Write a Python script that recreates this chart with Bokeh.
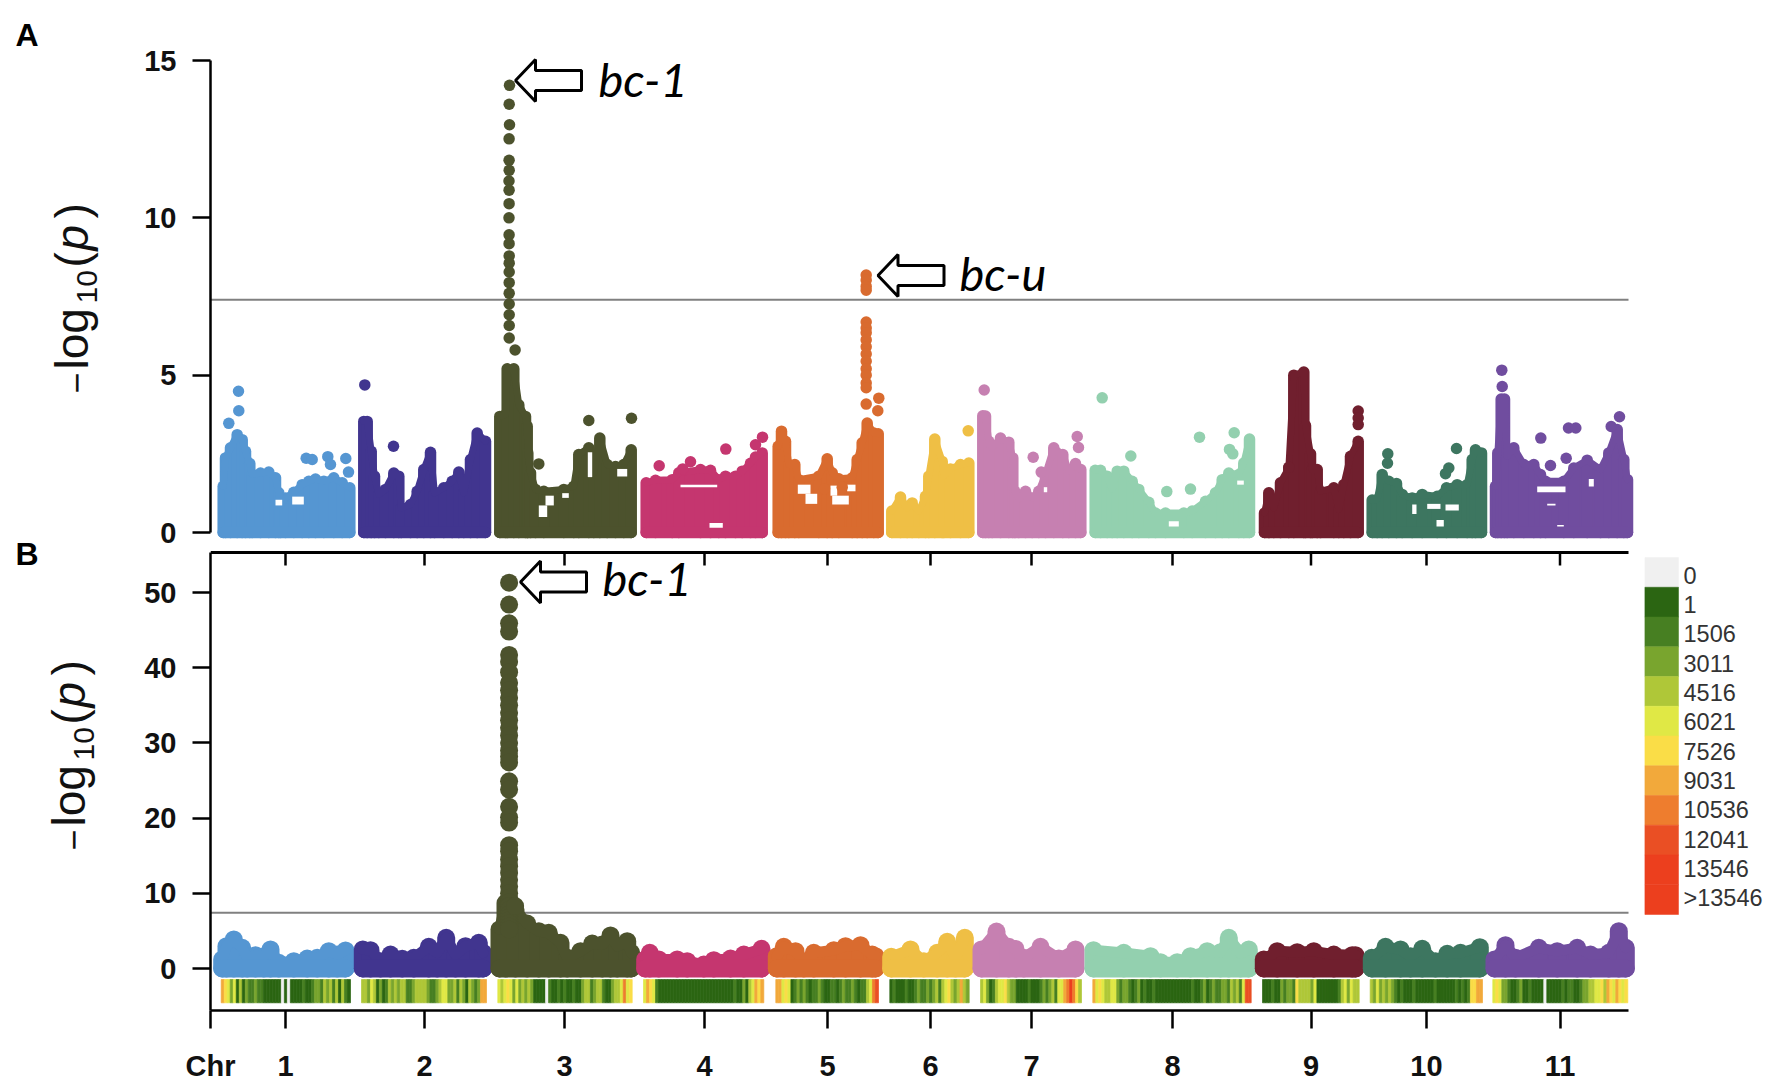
import math
from bokeh.plotting import figure
from bokeh.layouts import column, row
from bokeh.models import Range1d, LinearAxis, FixedTicker
from bokeh.embed import file_html
from bokeh.resources import INLINE
from bokeh.core.properties import value

CHR_COLORS = ["#5596D2", "#41358F", "#4C522D", "#C5366F", "#D96B2F", "#EFBF45",
              "#C680B1", "#93D0AF", "#701F2E", "#3D7660", "#704D9F"]
CHR_LABELS = ["Chr", "1", "2", "3", "4", "5", "6", "7", "8", "9", "10", "11"]
TICK_POS = [0, 75, 214, 354, 494, 617, 720, 821, 962, 1100.5, 1216, 1349.5]
GENOME_END = 1418
THRESHOLD = 7.4

# Panel A: upper outline of each chromosome's point cloud (position, -log10 p)
A_POS_1 = [12.7,15,20,26.7,31.7,35,39.3,41.7,50,58.3,65,68.3,70,75,83.3,91.7,98.3,105,113.3,123.3,131.7,139.3]
A_VAL_1 = [1.47,2.37,2.69,3.11,2.95,2.58,2.19,1.84,1.89,1.92,1.74,1.26,.84,1.10,1.28,1.52,1.63,1.70,1.63,1.74,1.58,1.42]
A_POS_2 = [153.3,156.7,160.7,164,168.3,175,183.3,188.3,190.7,200,206.7,213.3,220,224,233.3,241.7,248.3,253.3,260,266.7,275]
A_VAL_2 = [3.53,3.53,2.58,1.79,1.21,1.37,1.89,1.79,.78,.89,1.31,2.0,2.55,1.26,1.42,1.63,1.92,1.26,2.32,3.16,2.90]
A_POS_3 = [289.3,295,296.7,303.3,308.3,315,316.7,317.3,320,325,333.3,353.3,363.3,368.3,378.3,383.3,389.3,396.7,405,413.3,420.7]
A_VAL_3 = [3.69,3.75,5.2,5.2,4.06,3.69,3.38,2.53,1.9,1.37,1.31,1.37,1.47,2.48,2.69,1.89,3.0,2.16,2.1,2.16,2.63]
A_POS_4 = [435.7,445,461.7,468.3,490,500,508.3,515,525,531.7,540,545,551.7]
A_VAL_4 = [1.58,1.66,1.68,1.9,2.0,1.98,1.68,1.79,1.79,1.95,2.2,2.4,2.53]
A_POS_5 = [567.7,571,575,578.3,584.3,588.3,608.3,616.7,621.7,628.3,641.7,646.7,651.7,656.7,663.3,667.7]
A_VAL_5 = [2.74,3.22,2.9,2.16,2.16,1.68,1.79,2.34,1.9,1.71,1.74,2.32,2.85,3.48,3.16,3.14]
A_POS_6 = [681.3,690,696.7,701.7,708.3,715,718.3,724.3,731.7,733.3,740,750,758.3]
A_VAL_6 = [.68,1.13,.78,.94,.68,1.15,1.79,2.97,2.26,1.8,2.02,2.16,2.21]
A_POS_7 = [772.3,775,778.3,781.7,790,798.3,802.3,804.3,808.3,815,821.7,828.3,835,843.3,852.3,858.3,865,870.3]
A_VAL_7 = [3.71,3.7,2.9,2.7,3.0,2.87,2.37,1.31,1.07,1.31,1.10,1.31,1.84,2.69,2.48,1.95,2.19,2.0]
A_POS_8 = [884.7,890,896.7,901.7,906.7,913.3,921.7,928.3,938.3,945,955,973.3,981.7,995,1005,1011.7,1018.3,1028.3,1033.3,1039]
A_VAL_8 = [1.98,1.98,1.79,1.37,1.95,1.95,1.63,1.37,.96,.62,.62,.62,.68,.99,1.26,1.68,1.89,1.84,2.21,2.97]
A_POS_9 = [1054,1058.3,1063.3,1070,1078.3,1083.3,1093.3,1095,1100,1101.7,1106.7,1110,1123.3,1128.3,1133.3,1140,1147.7]
A_VAL_9 = [.62,1.26,.78,1.58,2.05,5.0,5.1,3.4,2.5,2.0,2.0,1.31,1.42,.73,1.52,2.42,2.9]
A_POS_10 = [1161.7,1166.7,1171.7,1178.3,1186,1191.7,1201.7,1211.7,1226.7,1236,1246.7,1256.7,1261.7,1265,1271]
A_VAL_10 = [1.03,1.05,1.84,1.63,1.56,1.21,1.10,1.21,1.15,1.42,1.52,1.52,2.32,2.63,2.53]
A_POS_11 = [1285,1287.3,1290.7,1294,1296.7,1303.3,1313.3,1323.3,1330,1335,1353.3,1363.3,1376.7,1390,1398.3,1406.7,1413.3,1417]
A_VAL_11 = [1.47,2.53,4.24,4.24,2.42,2.69,2.16,2.16,1.84,1.63,1.63,2.05,2.3,2.0,2.53,3.27,2.32,1.68]

# Panel A: points standing clear of the cloud
ISO_A_POS_1 = [28,28.3,18.3,95.7,101.7,117.3,120,135.3,138]
ISO_A_VAL_1 = [4.49,3.87,3.47,2.36,2.32,2.41,2.16,2.35,1.92]
ISO_A_POS_2 = [154.3,183]
ISO_A_VAL_2 = [4.69,2.74]
ISO_A_POS_3 = [378.3,421,328.3] + [299,298.7,299,298.6,298.6,298.7,298.5,298.6,298.6,298.5,298.6,298.6,298.7,298.7,298.7,298.7,298.7,298.7,298.7,298.7,298.7,304.6]
ISO_A_VAL_3 = [3.56,3.63,2.18] + [14.21,13.61,12.96,12.51,11.83,11.51,11.17,10.88,10.45,10.0,9.46,9.18,8.79,8.56,8.28,7.94,7.6,7.26,6.92,6.58,6.18,5.8]
ISO_A_POS_4 = [448.7,480,515.3,545,552,472.3]
ISO_A_VAL_4 = [2.12,2.25,2.65,2.79,3.03,2.02]
ISO_A_POS_5 = [655.7]*15 + [668.3,667.3,655.7,614,631.7]
ISO_A_VAL_5 = [8.18,8.02,7.82,7.7,6.69,6.5,6.35,6.12,5.9,5.67,5.44,5.2,5.0,4.75,4.6] + [4.27,3.87,4.08,1.39,1.44]
ISO_A_POS_6 = [757.7]
ISO_A_VAL_6 = [3.23]
ISO_A_POS_7 = [773.7,822.7,830.7,866.7,868]
ISO_A_VAL_7 = [4.53,2.39,1.92,3.05,2.7]
ISO_A_POS_8 = [891.7,920.3,956.3,980,989,1023.7,1019,1022.3]
ISO_A_VAL_8 = [4.28,2.43,1.30,1.38,3.03,3.17,2.64,2.50]
ISO_A_POS_9 = [1147.7,1147.7,1147.7,1078.3]
ISO_A_VAL_9 = [3.86,3.64,3.43,2.07]
ISO_A_POS_10 = [1177.3,1177,1246,1238.3,1235]
ISO_A_VAL_10 = [2.5,2.2,2.67,2.05,1.87]
ISO_A_POS_11 = [1291.3,1291.7,1330.3,1358,1365.3,1340,1355.7,1409,1400.7]
ISO_A_VAL_11 = [5.16,4.64,3.0,3.32,3.32,2.13,2.36,3.68,3.37]

# Panel A: empty pockets inside the cloud (pos1, pos2, val1, val2)
GAPS_A = [(65,71.7,.86,1.04),(81.7,93.3,.89,1.14),(335,343.3,.86,1.17),(328.3,336.7,.49,.86),
          (351.7,358.3,1.10,1.25),(377.3,381.7,1.76,2.55),(406.7,416.7,1.78,2.02),
          (470,506.7,1.44,1.52),(499,512.3,.15,.30),
          (587.3,600,1.23,1.52),(595,606.7,.91,1.23),(620,626.7,1.17,1.49),(636.7,645,1.31,1.52),(621.7,638.3,.89,1.17),
          (958.3,968.3,.19,.36),(1026.7,1033.3,1.52,1.65),(833.3,836.7,1.28,1.44),
          (1326.7,1355,1.28,1.46),(1336.7,1345,.86,.91),(1346.7,1353.3,.19,.24),(1378.3,1383.3,1.46,1.70),
          (1216.7,1230,.75,.91),(1226,1233.3,.19,.40),(1201.7,1206,.59,.89),(1235,1248.3,.70,.89)]

# Panel B: upper outline of each chromosome's point cloud
B_POS_1 = [11.7,16,23.3,31.7,36.7,45,53.3,60,68.3,83.3,96.7,106.7,118.3,126.7,135]
B_VAL_1 = [1.2,2.97,3.86,2.75,1.42,1.77,1.64,2.53,.75,.97,1.33,1.42,2.3,1.86,2.4]
B_POS_2 = [152.3,160,170,180,191.7,203.3,218.3,226.7,235.7,245,255,268.3,272.7]
B_VAL_2 = [2.53,2.44,.97,1.86,1.29,1.42,2.88,2.1,4.08,1.86,2.97,3.41,2.08]
B_POS_3 = [289,295,305,316.7,328.3,338.3,350,356.7,370,381.7,391.7,400,406.7,416.7,420.7]
B_VAL_3 = [5.19,8.7,7.8,5.98,4.96,4.74,3.41,1.42,2.3,3.32,3.19,4.39,2.97,3.63,2.08]
B_POS_4 = [434.7,439.3,448.3,466.7,476.7,493.3,503.3,520,533.3,551]
B_VAL_4 = [1.2,2.08,1.2,1.2,.97,.53,1.1,1.33,1.86,2.62]
B_POS_5 = [566.3,573.3,585,593.3,603.3,623.3,635,650,661.7,665]
B_VAL_5 = [1.64,2.88,2.3,.97,2.08,2.44,2.97,3.1,1.86,1.64]
B_POS_6 = [680.7,700,713.3,726.7,736.7,745,754.3]
B_VAL_6 = [1.55,2.53,.97,2.08,3.55,1.42,4.08]
B_POS_7 = [771,786,798.3,805,813.3,830,848.3,865]
B_VAL_7 = [2.53,4.92,2.88,2.6,1.42,2.88,1.33,2.53]
B_POS_8 = [883,913.3,940,950,966.7,980,996.7,1010,1018.3,1030,1038.3]
B_VAL_8 = [2.44,2.08,1.64,.84,.84,1.64,2.3,2.17,4.08,2.0,2.53]
B_POS_9 = [1053.3,1066.7,1086.7,1103.3,1123.3,1141.7,1145]
B_VAL_9 = [1.2,2.3,2.17,2.3,1.86,1.77,1.77]
B_POS_10 = [1161.3,1175,1190,1200,1211.7,1225,1236.7,1250,1269.3]
B_VAL_10 = [1.42,2.88,2.53,1.64,2.62,.97,1.95,2.08,2.84]
B_POS_11 = [1284,1295,1305,1328.3,1346.7,1366.7,1380,1398.3,1408.3,1415.3]
B_VAL_11 = [1.2,3.1,1.42,2.75,2.3,2.75,1.86,2.08,4.96,2.75]

PEAK_B_POS = [298.6]*42 + [304.6]
PEAK_B_VAL = [51.3,48.4,45.9,44.8,41.7,40.8,39.4,38,37,36,35,34,33,32,31,30,29,28.2,27.4,
              24.9,23.8,21.5,20.1,19.4,16.4,15.6,14.5,13.6,12.7,11.8,10.9,10,9.4,8.8,8.3,7.8,7.2,6.8,6.4,6,5.6,5.2,8.3]

# SNP density strip: extent of each chromosome and density class per window
STRIP_START = [10.7,151,287.3,433,565.3,679.3,770,882.3,1052,1159.7,1282.3]
STRIP_END = [140,276,421.7,553.3,668,758.7,871,1040.7,1148.7,1272,1417.3]
DENS_1 = [7,6,5,3,5,1,4,1,3,2,2,3,2,2,1,1,1,1,1,1,0,1,0,1,1,1,1,2,1,1,2,3,3,2,4,3,4,2,4,1,4,2,1]
DENS_2 = [4,4,3,5,4,1,3,1,2,4,3,4,3,4,4,2,2,3,4,4,4,4,3,2,2,3,4,5,5,3,3,4,2,4,3,1,4,3,2,3,7,7]
DENS_3 = [5,4,5,6,5,3,5,3,4,3,4,3,1,1,1,1,0,2,1,1,2,1,2,1,1,2,1,1,3,4,4,2,3,4,4,2,1,1,3,4,4,5,8,5,6]
DENS_4 = [5,7,6,5,2,1,1,1,1,1,1,1,1,1,1,1,1,1,1,1,1,1,1,1,1,1,1,1,1,1,2,1,1,3,1,4,5,7,6,7]
DENS_5 = [7,7,5,6,5,1,2,3,2,3,2,1,2,2,3,2,1,1,2,2,1,2,3,2,2,3,2,1,2,2,4,5,8,9]
DENS_6 = [1,2,1,1,1,2,1,1,2,3,2,2,3,2,3,4,2,4,5,6,4,3,4,7,4,3]
DENS_7 = [4,5,3,1,2,4,5,5,6,4,3,3,1,1,1,1,2,1,1,1,2,3,2,3,4,2,5,5,7,8,10,8,6,4]
DENS_8 = [7,5,6,5,4,4,5,5,3,2,3,3,2,1,2,3,1,2,1,1,2,1,1,1,1,1,1,1,1,1,1,1,1,2,1,1,2,3,1,2,3,2,2,3,3,2,4,3,4,2,5,9,9]
DENS_9 = [1,1,1,2,1,1,3,2,3,3,2,6,4,4,4,4,3,5,1,1,1,1,1,1,1,2,4,5,3,5,4,4]
DENS_10 = [4,3,5,3,4,3,4,3,2,1,2,1,1,1,2,1,1,1,1,1,1,2,1,1,1,1,1,1,2,1,2,1,2,6,6,7,7]
DENS_11 = [5,6,5,3,3,2,1,1,2,3,1,1,2,1,1,1,1,0,1,1,1,1,1,2,1,2,2,1,1,2,3,3,4,4,5,5,6,4,7,6,5,7,6,5,6]
DENS_COLORS = ["#F0F0F0","#2B6512","#477F22","#79A52E","#AFC738","#E0E845","#FADD47",
               "#F2A93B","#EE7D2E","#EA4F24","#EC3F1E","#EC3F1E"]
DENS_LABELS = ["0","1","1506","3011","4516","6021","7526","9031","10536","12041","13546",">13546"]

TICK_FONT = "Liberation Sans"
MARGIN = 130
LEFT_PX = 210
A_TOP, A_ZERO, A_FRAME_TOP, A_FRAME_BOTTOM = 60, 532, 52, 540
B_LINE, B_ZERO, B_BOTTOM, B_FIFTY = 552, 968, 1010, 592
A_H, B_H = 549, 526
MA_H, MB_H = 536, 539
A_PX = (A_ZERO - A_TOP) / 15
B_PX = (B_ZERO - B_FIFTY) / 50
FRAME_W = 1430
BASELINE_SHIFT = 0.38


def base(fig_h, frame_h, yr, top, bottom, right=2):
    p = figure(width=LEFT_PX - MARGIN + FRAME_W + right, height=fig_h,
               frame_width=FRAME_W, frame_height=frame_h,
               x_range=Range1d(0, FRAME_W), y_range=yr, output_backend="svg",
               toolbar_location=None, min_border_left=LEFT_PX - MARGIN, min_border_right=right,
               min_border_top=top, min_border_bottom=bottom, outline_line_color=None,
               background_fill_color="white", x_axis_location=None, y_axis_location=None,
               frame_align=False)
    p.grid.visible = False
    return p


def style_left(ax):
    ax.axis_line_color = "black"
    ax.axis_line_width = 2.5
    ax.major_tick_line_color = "black"
    ax.major_tick_line_width = 2.5
    ax.major_tick_out = 18
    ax.major_tick_in = 0
    ax.minor_tick_line_color = None
    ax.major_label_standoff = 16
    ax.major_label_text_font = TICK_FONT
    ax.major_label_text_font_style = "bold"
    ax.major_label_text_font_size = "29px"
    ax.major_label_text_color = "#111111"


def margin_fig(height, letter, letter_y, dy, xs):
    m = figure(width=MARGIN, height=height, frame_width=MARGIN, frame_height=height,
               x_range=Range1d(0, MARGIN), y_range=Range1d(height, 0), output_backend="svg",
               toolbar_location=None, min_border=0, outline_line_color=None,
               x_axis_location=None, y_axis_location=None, frame_align=False)
    m.grid.visible = False
    up = math.pi / 2

    def t(s, x, y, size, style="normal", angle=up, color="#111111"):
        if angle == 0:
            y = y - BASELINE_SHIFT * size
        else:
            x = x - BASELINE_SHIFT * size
        m.text([x], [y], text=[s], text_font=value("Liberation Sans"), text_font_size=f"{size}px",
               text_font_style=style, angle=angle, text_baseline="alphabetic", text_align="left",
               text_color=color)

    t(letter, 15, letter_y, 32, style="bold", angle=0, color="black")
    t("\u2212", xs, 393 + dy, 36)
    t("log", xs, 369 + dy, 46)
    t("10", xs + 9, 303 + dy, 30)
    t("(", xs, 267 + dy, 46)
    t("p", xs, 250 + dy, 46, style="italic")
    t(")", xs, 218 + dy, 46)
    return m


def arrow(p, tip_pos, tip_val, px_y):
    dx = [0, 20, 20, 66, 66, 20, 20, 0]
    dy = [0, 21, 10, 10, -10, -10, -21, 0]
    p.patch([tip_pos + d for d in dx], [tip_val + d / px_y for d in dy],
            fill_color="white", line_color="black", line_width=3)


def gene(p, s, pos, val, px_y):
    size = 47
    p.text([pos], [val + BASELINE_SHIFT * size / px_y], text=[s], text_font=value("Lato"),
           text_font_size=f"{size}px", text_font_style="italic",
           text_baseline="alphabetic", text_color="black")


def cloud(p, xs, ys, color, size):
    p.varea(xs, [0] * len(xs), ys, fill_color=color)
    p.segment(xs, [0] * len(xs), xs, ys, line_color=color, line_width=size, line_cap="round")
    p.line(xs, ys, line_color=color, line_width=size * 0.6, line_join="round", line_cap="round")
    p.line(xs, [0] * len(xs), line_color=color, line_width=size, line_cap="round")


A_ENV = [(A_POS_1, A_VAL_1), (A_POS_2, A_VAL_2), (A_POS_3, A_VAL_3), (A_POS_4, A_VAL_4),
         (A_POS_5, A_VAL_5), (A_POS_6, A_VAL_6), (A_POS_7, A_VAL_7), (A_POS_8, A_VAL_8),
         (A_POS_9, A_VAL_9), (A_POS_10, A_VAL_10), (A_POS_11, A_VAL_11)]
A_ISO = [(ISO_A_POS_1, ISO_A_VAL_1), (ISO_A_POS_2, ISO_A_VAL_2), (ISO_A_POS_3, ISO_A_VAL_3),
         (ISO_A_POS_4, ISO_A_VAL_4), (ISO_A_POS_5, ISO_A_VAL_5), (ISO_A_POS_6, ISO_A_VAL_6),
         (ISO_A_POS_7, ISO_A_VAL_7), (ISO_A_POS_8, ISO_A_VAL_8), (ISO_A_POS_9, ISO_A_VAL_9),
         (ISO_A_POS_10, ISO_A_VAL_10), (ISO_A_POS_11, ISO_A_VAL_11)]
B_ENV = [(B_POS_1, B_VAL_1), (B_POS_2, B_VAL_2), (B_POS_3, B_VAL_3), (B_POS_4, B_VAL_4),
         (B_POS_5, B_VAL_5), (B_POS_6, B_VAL_6), (B_POS_7, B_VAL_7), (B_POS_8, B_VAL_8),
         (B_POS_9, B_VAL_9), (B_POS_10, B_VAL_10), (B_POS_11, B_VAL_11)]
DENS = [DENS_1, DENS_2, DENS_3, DENS_4, DENS_5, DENS_6, DENS_7, DENS_8, DENS_9, DENS_10, DENS_11]

# ---------- Panel A ----------
a_rng = Range1d((A_ZERO - A_FRAME_BOTTOM) / A_PX, (A_ZERO - A_FRAME_TOP) / A_PX)
pa = base(A_H, A_FRAME_BOTTOM - A_FRAME_TOP, a_rng, A_FRAME_TOP, A_H - A_FRAME_BOTTOM)
ax = LinearAxis(bounds=(0, 15), ticker=FixedTicker(ticks=[0, 5, 10, 15]))
style_left(ax)
pa.add_layout(ax, "left")
pa.line([0, GENOME_END], [THRESHOLD, THRESHOLD], line_color="#808080", line_width=2)
for (xs, ys), c in zip(A_ENV, CHR_COLORS):
    cloud(pa, xs, ys, c, 11.5)
pa.quad(left=[g[0] for g in GAPS_A], right=[g[1] for g in GAPS_A],
        bottom=[g[2] for g in GAPS_A], top=[g[3] for g in GAPS_A], fill_color="white", line_color=None)
for (xs, ys), c in zip(A_ISO, CHR_COLORS):
    pa.scatter(xs, ys, size=11.5, fill_color=c, line_color=None)
arrow(pa, 515 - LEFT_PX, (A_ZERO - 80) / A_PX, A_PX)
arrow(pa, 877.5 - LEFT_PX, (A_ZERO - 275) / A_PX, A_PX)
gene(pa, "bc-1", 598 - LEFT_PX, (A_ZERO - 96.4) / A_PX, A_PX)
gene(pa, "bc-u", 959 - LEFT_PX, (A_ZERO - 290) / A_PX, A_PX)
ma = margin_fig(MA_H, "A", 46.4, 0, 89)

# ---------- Panel B ----------
B_FRAME_TOP = A_H
b_rng = Range1d((B_ZERO - B_BOTTOM) / B_PX, (B_ZERO - B_FRAME_TOP) / B_PX)
pb = base(B_H, B_BOTTOM - B_FRAME_TOP, b_rng, 0, A_H + B_H - B_BOTTOM)
b_line_val = (B_ZERO - B_LINE) / B_PX
ax = LinearAxis(ticker=FixedTicker(ticks=[0, 10, 20, 30, 40, 50]),
                bounds=((B_ZERO - B_BOTTOM) / B_PX, b_line_val))
style_left(ax)
pb.add_layout(ax, "left")
lab = dict(zip(TICK_POS, CHR_LABELS))
bot = LinearAxis(bounds=(0, GENOME_END), ticker=FixedTicker(ticks=TICK_POS),
                 major_label_overrides=lab)
bot.axis_line_color = "black"; bot.axis_line_width = 2.5
bot.major_tick_line_color = "black"; bot.major_tick_line_width = 2.5
bot.major_tick_out = 18; bot.major_tick_in = 0; bot.minor_tick_line_color = None
bot.major_label_standoff = 21
bot.major_label_text_font = TICK_FONT; bot.major_label_text_font_style = "bold"
bot.major_label_text_font_size = "29px"; bot.major_label_text_color = "#111111"
pb.add_layout(bot, "below")
pb.line([0, GENOME_END], [b_line_val, b_line_val], line_color="black", line_width=3)
pb.segment(TICK_POS[1:], [b_line_val] * 11, TICK_POS[1:], [b_line_val - 13 / B_PX] * 11,
           line_color="black", line_width=2.5)
pb.line([0, GENOME_END], [THRESHOLD, THRESHOLD], line_color="#808080", line_width=2)
for (xs, ys), c in zip(B_ENV, CHR_COLORS):
    cloud(pb, xs, ys, c, 18)
pb.scatter(PEAK_B_POS, PEAK_B_VAL, size=18, fill_color=CHR_COLORS[2], line_color=None)
for s, e, d in zip(STRIP_START, STRIP_END, DENS):
    w = (e - s) / len(d)
    cols = [DENS_COLORS[v] for v in d]
    pb.quad(left=[s + i * w for i in range(len(d))], right=[s + (i + 1) * w for i in range(len(d))],
            bottom=(B_ZERO - 1002.3) / B_PX, top=(B_ZERO - 979) / B_PX,
            fill_color=cols, line_color=cols, line_width=0.7)
arrow(pb, 520 - LEFT_PX, (B_ZERO - 581.5) / B_PX, B_PX)
gene(pb, "bc-1", 602 - LEFT_PX, (B_ZERO - 595.4) / B_PX, B_PX)
mb = margin_fig(MB_H, "B", 566 - MA_H, 457 - MA_H, 86)

# ---------- Colour key ----------
ROW_H = (914 - 557) / 12
KEY_W = 125
key = figure(width=KEY_W, height=B_H, frame_width=KEY_W, frame_height=B_H,
             x_range=Range1d(0, KEY_W),
             y_range=Range1d(-(557 - A_H) / ROW_H + B_H / ROW_H, -(557 - A_H) / ROW_H),
             output_backend="svg", toolbar_location=None, min_border=0, outline_line_color=None,
             x_axis_location=None, y_axis_location=None, frame_align=False)
key.grid.visible = False
key.quad(left=2.4, right=36, bottom=[i + 1 for i in range(12)], top=list(range(12)),
         fill_color=DENS_COLORS, line_color=DENS_COLORS, line_width=0.5)
key.text([41] * 12, [0.6 + i * 0.985 for i in range(12)], text=DENS_LABELS, text_font=value("Liberation Sans"),
         text_font_size="23.5px", text_baseline="middle", text_color="#333333")

layout = row(column(ma, mb, spacing=0),
             column(pa, row(pb, key, spacing=0), spacing=0), spacing=0)
open("out.html", "w").write(file_html(layout, INLINE))
